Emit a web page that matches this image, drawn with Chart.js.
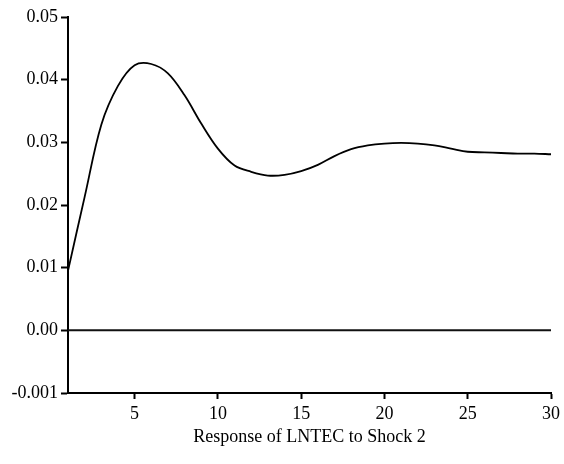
<!DOCTYPE html>
<html>
<head>
<meta charset="utf-8">
<script src="https://cdn.jsdelivr.net/npm/chart.js@4.4.1/dist/chart.umd.min.js"></script>
<style>
  html, body { margin: 0; padding: 0; background: #ffffff; }
  #box { width: 564px; height: 464px; }
</style>
</head>
<body>
<div id="box"><canvas id="grafico"></canvas></div>
<script>
// periodi e risposta all'impulso
const periodi = [1, 2, 3, 4, 5, 6, 7, 8, 9, 10, 11, 12, 13, 14, 15,
  16, 17, 18, 19, 20, 21, 22, 23, 24, 25, 26, 27, 28, 29, 30];
const risposta = [0.0095, 0.0213, 0.0328, 0.0390, 0.0423, 0.0425, 0.0410, 0.0375, 0.0330, 0.0290,
  0.0263, 0.0253, 0.0247, 0.0248, 0.0254, 0.0264, 0.0278, 0.0289, 0.0295, 0.0298,
  0.0299, 0.0298, 0.0295, 0.0290, 0.0285, 0.0284, 0.0283, 0.0282, 0.0282, 0.0281];
const lineaZero = [0, 0];

const tickX = [5, 10, 15, 20, 25, 30];
const tickYValori = [-0.01, 0.00, 0.01, 0.02, 0.03, 0.04, 0.05];
const tickYEtichette = ["-0.001", "0.00", "0.01", "0.02", "0.03", "0.04", "0.05"];
const titoloX = "Response of LNTEC to Shock 2";

const font = { family: "'Liberation Serif', 'Times New Roman', serif", size: 18 };

const puntiRisposta = periodi.map(function (p, i) { return { x: p, y: risposta[i] }; });
const puntiZero = [
  { x: periodi[0], y: lineaZero[0] },
  { x: periodi[periodi.length - 1], y: lineaZero[1] }
];

new Chart(document.getElementById("grafico"), {
  type: "line",
  data: {
    datasets: [
      {
        data: puntiRisposta,
        borderColor: "#000000",
        borderWidth: 1.8,
        pointRadius: 0,
        tension: 0.35,
        fill: false
      },
      {
        data: puntiZero,
        borderColor: "#111111",
        borderWidth: 2,
        pointRadius: 0,
        fill: false
      }
    ]
  },
  options: {
    responsive: true,
    maintainAspectRatio: false,
    animation: false,
    layout: { padding: { left: 0, right: 12, top: 17, bottom: 0 } },
    plugins: {
      legend: { display: false },
      tooltip: { enabled: false }
    },
    scales: {
      x: {
        type: "linear",
        min: 1,
        max: 30,
        afterBuildTicks: function (scale) {
          scale.ticks = tickX.map(function (v) { return { value: v }; });
        },
        afterFit: function (scale) { scale.height = 71; },
        border: { display: true, color: "#000000", width: 2 },
        grid: {
          display: true,
          drawOnChartArea: false,
          drawTicks: true,
          tickLength: 6,
          tickWidth: 2,
          tickColor: "#000000"
        },
        ticks: {
          color: "#000000",
          font: font,
          padding: 4,
          maxRotation: 0,
          autoSkip: false,
          callback: function (v) { return String(v); }
        },
        title: {
          display: true,
          text: titoloX,
          color: "#000000",
          font: font,
          padding: { top: 0, bottom: 16 }
        }
      },
      y: {
        type: "linear",
        min: -0.01,
        max: 0.05,
        afterBuildTicks: function (scale) {
          scale.ticks = tickYValori.map(function (v) { return { value: v }; });
        },
        afterFit: function (scale) { scale.width = 68; },
        border: { display: true, color: "#000000", width: 2 },
        grid: {
          display: true,
          drawOnChartArea: false,
          drawTicks: true,
          tickLength: 7,
          tickWidth: 2,
          tickColor: "#000000"
        },
        ticks: {
          color: "#000000",
          font: font,
          padding: 3,
          autoSkip: false,
          callback: function (v) {
            const i = tickYValori.findIndex(function (t) { return Math.abs(t - v) < 1e-9; });
            return i >= 0 ? tickYEtichette[i] : "";
          }
        }
      }
    }
  }
});
</script>
</body>
</html>
